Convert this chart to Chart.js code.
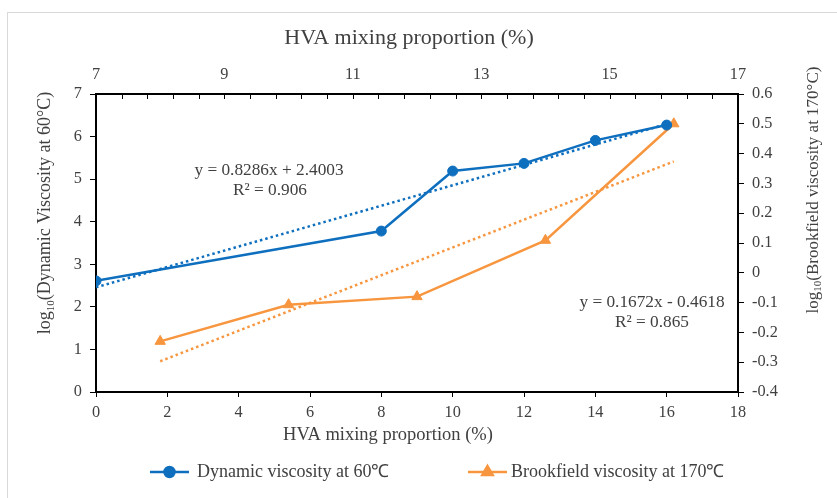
<!DOCTYPE html>
<html>
<head>
<meta charset="utf-8">
<script src="https://cdn.jsdelivr.net/npm/chart.js@4/dist/chart.umd.min.js"></script>
<style>
  html, body { margin: 0; padding: 0; background: #fff; }
  #wrap { position: relative; width: 837px; height: 498px; overflow: hidden; }
  #frame { position: absolute; left: 7px; top: 12px; width: 900px; height: 600px;
           border-left: 1px solid #d9d9d9; border-top: 1px solid #d9d9d9; }
  #chart { position: absolute; left: 0; top: 0; }
</style>
</head>
<body>
<div id="wrap">
  <div id="frame"></div>
  <canvas id="chart" width="837" height="498"></canvas>
</div>
<script>
// HVA mixing proportion (%) and log10 viscosities
const dynamicX = [0, 8, 10, 12, 14, 16];
const dynamicLog = [2.61, 3.78, 5.19, 5.37, 5.91, 6.27];
const brookfieldX = [8, 10, 12, 14, 16];
const brookfieldLog = [-0.23, -0.107, -0.08, 0.109, 0.5];

const seriesNames = ['Dynamic viscosity at 60\u2103', 'Brookfield viscosity at 170\u2103'];
const fitLabels = [
  ['y = 0.8286x + 2.4003', 'R\u00B2 = 0.906'],
  ['y = 0.1672x - 0.4618', 'R\u00B2 = 0.865']
];
const xTitle = 'HVA mixing proportion (%)';
const leftTitle = ['log', '10', '(Dynamic Viscosity at 60\u00B0C)'];
const rightTitle = ['log', '10', '(Brookfield viscosity at 170\u00B0C)'];

const BLUE = '#0F6FBF';
const ORANGE = '#F7963F';
const TEXT = '#404040';
const FONT = '"Liberation Serif", "Times New Roman", serif';

// least-squares straight line through a series
function linearFit(xs, ys) {
  const n = xs.length;
  const mx = xs.reduce((s, v) => s + v, 0) / n;
  const my = ys.reduce((s, v) => s + v, 0) / n;
  let sxy = 0, sxx = 0;
  for (let i = 0; i < n; i++) { sxy += (xs[i] - mx) * (ys[i] - my); sxx += (xs[i] - mx) ** 2; }
  const b = sxy / sxx, a = my - b * mx;
  const x0 = Math.min(...xs), x1 = Math.max(...xs);
  return [{ x: x0, y: a + b * x0 }, { x: x1, y: a + b * x1 }];
}
const toPoints = (xs, ys) => xs.map((x, i) => ({ x, y: ys[i] }));

// text with a subscript part, centred on (cx, cy), optionally rotated
function drawSubText(ctx, parts, cx, cy, angle, size) {
  const big = size + 'px ' + FONT, small = Math.round(size * 0.62) + 'px ' + FONT;
  ctx.save();
  ctx.translate(cx, cy);
  ctx.rotate(angle);
  let w = 0;
  parts.forEach((p, i) => { ctx.font = i === 1 ? small : big; w += ctx.measureText(p).width; });
  let x = -w / 2;
  ctx.textBaseline = 'alphabetic';
  ctx.textAlign = 'left';
  parts.forEach((p, i) => {
    ctx.font = i === 1 ? small : big;
    ctx.fillText(p, x, size * 0.33 + (i === 1 ? size * 0.22 : 0));
    x += ctx.measureText(p).width;
  });
  ctx.restore();
}

const decor = {
  id: 'decor',
  afterDraw(chart) {
    const { ctx, chartArea: a, scales } = chart;
    ctx.save();
    // inward minor ticks on the top axis
    const x2 = scales.x2;
    ctx.strokeStyle = '#000';
    ctx.lineWidth = 1;
    const steps = Math.round((x2.max - x2.min) / 0.4);
    for (let k = 1; k < steps; k++) {
      const px = Math.round(x2.getPixelForValue(x2.min + k * 0.4)) + 0.5;
      ctx.beginPath(); ctx.moveTo(px, a.top); ctx.lineTo(px, a.top + 5); ctx.stroke();
    }
    ctx.fillStyle = TEXT;
    ctx.textAlign = 'center';
    ctx.textBaseline = 'middle';
    // axis titles
    ctx.font = '22px ' + FONT;
    ctx.fillText(xTitle, 409, 38);
    ctx.font = '18.5px ' + FONT;
    ctx.fillText(xTitle, 388, 435);
    drawSubText(ctx, leftTitle, 44, 213, -Math.PI / 2, 18);
    drawSubText(ctx, rightTitle, 812, 190, -Math.PI / 2, 17);
    // trendline equations
    ctx.font = '17.3px ' + FONT;
    ctx.fillText(fitLabels[0][0], 269, 170);
    ctx.fillText(fitLabels[0][1], 270, 190);
    ctx.fillText(fitLabels[1][0], 652, 302);
    ctx.fillText(fitLabels[1][1], 652, 322);
    // legend
    const items = [
      { ds: chart.data.datasets[0], x: 150, tx: 197, text: seriesNames[0] },
      { ds: chart.data.datasets[1], x: 468, tx: 511, text: seriesNames[1] }
    ];
    const ly = 472;
    items.forEach(it => {
      ctx.strokeStyle = it.ds.borderColor;
      ctx.lineWidth = 2.5;
      ctx.beginPath(); ctx.moveTo(it.x, ly); ctx.lineTo(it.x + 39, ly); ctx.stroke();
      Chart.helpers.drawPoint(ctx, {
        pointStyle: it.ds.pointStyle, radius: it.ds.pointRadius, rotation: 0, borderWidth: 1
      }, it.x + 19.5, ly);
      ctx.fillStyle = it.ds.backgroundColor;
      ctx.strokeStyle = it.ds.borderColor;
      ctx.fill();
      ctx.fillStyle = TEXT;
      ctx.textAlign = 'left';
      ctx.font = '18px ' + FONT;
      ctx.fillText(it.text, it.tx, ly);
    });
    ctx.restore();
  }
};

const axisBorder = { display: true, color: '#000', width: 2 };
const tickFont = { family: FONT, size: 16.3 };

new Chart(document.getElementById('chart'), {
  type: 'line',
  data: {
    datasets: [
      {
        label: seriesNames[0], data: toPoints(dynamicX, dynamicLog),
        xAxisID: 'x', yAxisID: 'y',
        borderColor: BLUE, backgroundColor: BLUE, borderWidth: 2.5,
        pointStyle: 'circle', pointRadius: 5, pointBorderWidth: 1, order: 1
      },
      {
        label: seriesNames[1], data: toPoints(brookfieldX, brookfieldLog),
        xAxisID: 'x2', yAxisID: 'y2',
        borderColor: ORANGE, backgroundColor: ORANGE, borderWidth: 2.5,
        pointStyle: 'triangle', pointRadius: 6, pointBorderWidth: 1, order: 1
      },
      {
        label: 'fit-dynamic', data: linearFit(dynamicX, dynamicLog),
        xAxisID: 'x', yAxisID: 'y',
        borderColor: BLUE, borderWidth: 2.5, borderDash: [2.5, 3], pointRadius: 0, order: 2
      },
      {
        label: 'fit-brookfield', data: linearFit(brookfieldX, brookfieldLog),
        xAxisID: 'x2', yAxisID: 'y2',
        borderColor: ORANGE, borderWidth: 2.5, borderDash: [2.5, 3], pointRadius: 0, order: 2
      }
    ]
  },
  options: {
    responsive: false,
    animation: false,
    layout: { padding: 0 },
    plugins: { legend: { display: false }, tooltip: { enabled: false } },
    elements: { line: { tension: 0 } },
    scales: {
      x: {
        type: 'linear', position: 'bottom', min: 0, max: 18,
        ticks: { stepSize: 2, color: TEXT, font: tickFont, padding: 6, maxRotation: 0 },
        grid: { drawOnChartArea: false, color: '#000', tickLength: 5, tickWidth: 1 },
        border: axisBorder,
        afterFit: s => { s.height = 106; }
      },
      x2: {
        type: 'linear', position: 'top', min: 7, max: 17,
        ticks: { stepSize: 2, color: TEXT, font: tickFont, padding: 1, maxRotation: 0 },
        grid: { display: false },
        border: axisBorder,
        afterFit: s => { s.height = 94; }
      },
      y: {
        type: 'linear', position: 'left', min: 0, max: 7,
        ticks: { stepSize: 1, color: TEXT, font: tickFont, padding: 8 },
        grid: { drawOnChartArea: false, color: '#000', tickLength: 6, tickWidth: 1 },
        border: axisBorder,
        afterFit: s => { s.width = 96; }
      },
      y2: {
        type: 'linear', position: 'right', min: -0.4, max: 0.6,
        ticks: {
          stepSize: 0.1, color: TEXT, font: tickFont, padding: 8,
          callback: v => { const r = Math.round(v * 10) / 10; return r === 0 ? '0' : r.toFixed(1); }
        },
        grid: { drawOnChartArea: false, color: '#000', tickLength: 6, tickWidth: 1 },
        border: axisBorder,
        afterFit: s => { s.width = 99; }
      }
    }
  },
  plugins: [decor]
});
</script>
</body>
</html>
